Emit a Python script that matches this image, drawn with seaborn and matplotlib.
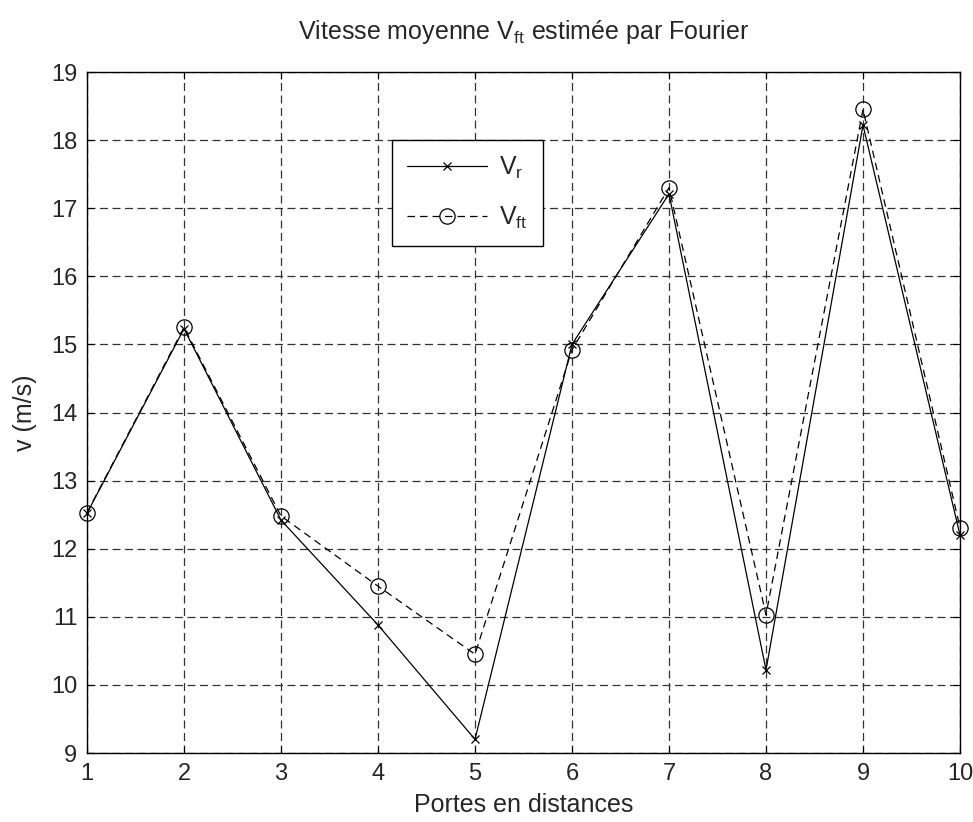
import matplotlib
matplotlib.use("Agg")
import matplotlib.pyplot as plt
import seaborn as sns
import pandas as pd

portes = [1, 2, 3, 4, 5, 6, 7, 8, 9, 10]
v_r = [12.52, 15.23, 12.42, 10.88, 9.20, 15.00, 17.21, 10.22, 18.22, 12.20]
v_ft = [12.53, 15.25, 12.48, 11.45, 10.45, 14.92, 17.30, 11.03, 18.45, 12.31]
yticks = list(range(9, 20))

sns.set_theme(style="white")
plt.rcParams['font.family'] = ['Liberation Sans', 'DejaVu Sans']
plt.rcParams['mathtext.fontset'] = 'custom'
plt.rcParams['mathtext.rm'] = 'Liberation Sans'
plt.rcParams['mathtext.it'] = 'Liberation Sans'

df = pd.DataFrame({"porte": portes, "vr": v_r, "vft": v_ft})

fig = plt.figure(figsize=(9.73, 8.22), dpi=100)
top_px, bot_px, left_px, right_px = 72, 753, 87, 960
ax = fig.add_axes([left_px / 973, 1 - bot_px / 822,
                   (right_px - left_px) / 973, (bot_px - top_px) / 822])

sns.lineplot(data=df, x="porte", y="vr", ax=ax, color="black", lw=0.9,
             marker="x", markersize=6, markeredgewidth=0.9,
             markeredgecolor="black", clip_on=False,
             label=r"$\mathregular{V_r}$")
sns.lineplot(data=df, x="porte", y="vft", ax=ax, color="black", lw=0.9,
             linestyle=(0, (6, 4)), marker="o", markersize=11,
             markerfacecolor="none", markeredgecolor="black", markeredgewidth=0.9,
             clip_on=False, label=r"$\mathregular{V_{ft}}$")

ax.set_xlim(1, 10)
ax.set_ylim(9, 19)
ax.set_xticks(portes)
ax.set_yticks(yticks)
ax.tick_params(direction="in", length=5, width=0.8, labelsize=17, color="black",
               top=True, right=True, bottom=True, left=True, pad=7)
ax.grid(True, color="#333333", linestyle=(0, (6.4, 3.6)), linewidth=0.9)
for s in ax.spines.values():
    s.set_color("black")
    s.set_linewidth(1.0)

ax.set_xlabel("Portes en distances", fontsize=18, labelpad=6)
ax.set_ylabel("v (m/s)", fontsize=18, labelpad=10)
ax.set_title(r"Vitesse moyenne $\mathregular{V_{ft}}$ estimée par Fourier", fontsize=18, pad=24)

leg = ax.legend(loc="upper left", bbox_to_anchor=(0.349, 0.900), fontsize=18,
                handlelength=3.2, fancybox=False, framealpha=1, edgecolor="black",
                borderpad=0.6, labelspacing=0.95, handletextpad=0.5, borderaxespad=0)
leg.get_frame().set_linewidth(1.0)

fig.savefig("out.png", dpi=100)
